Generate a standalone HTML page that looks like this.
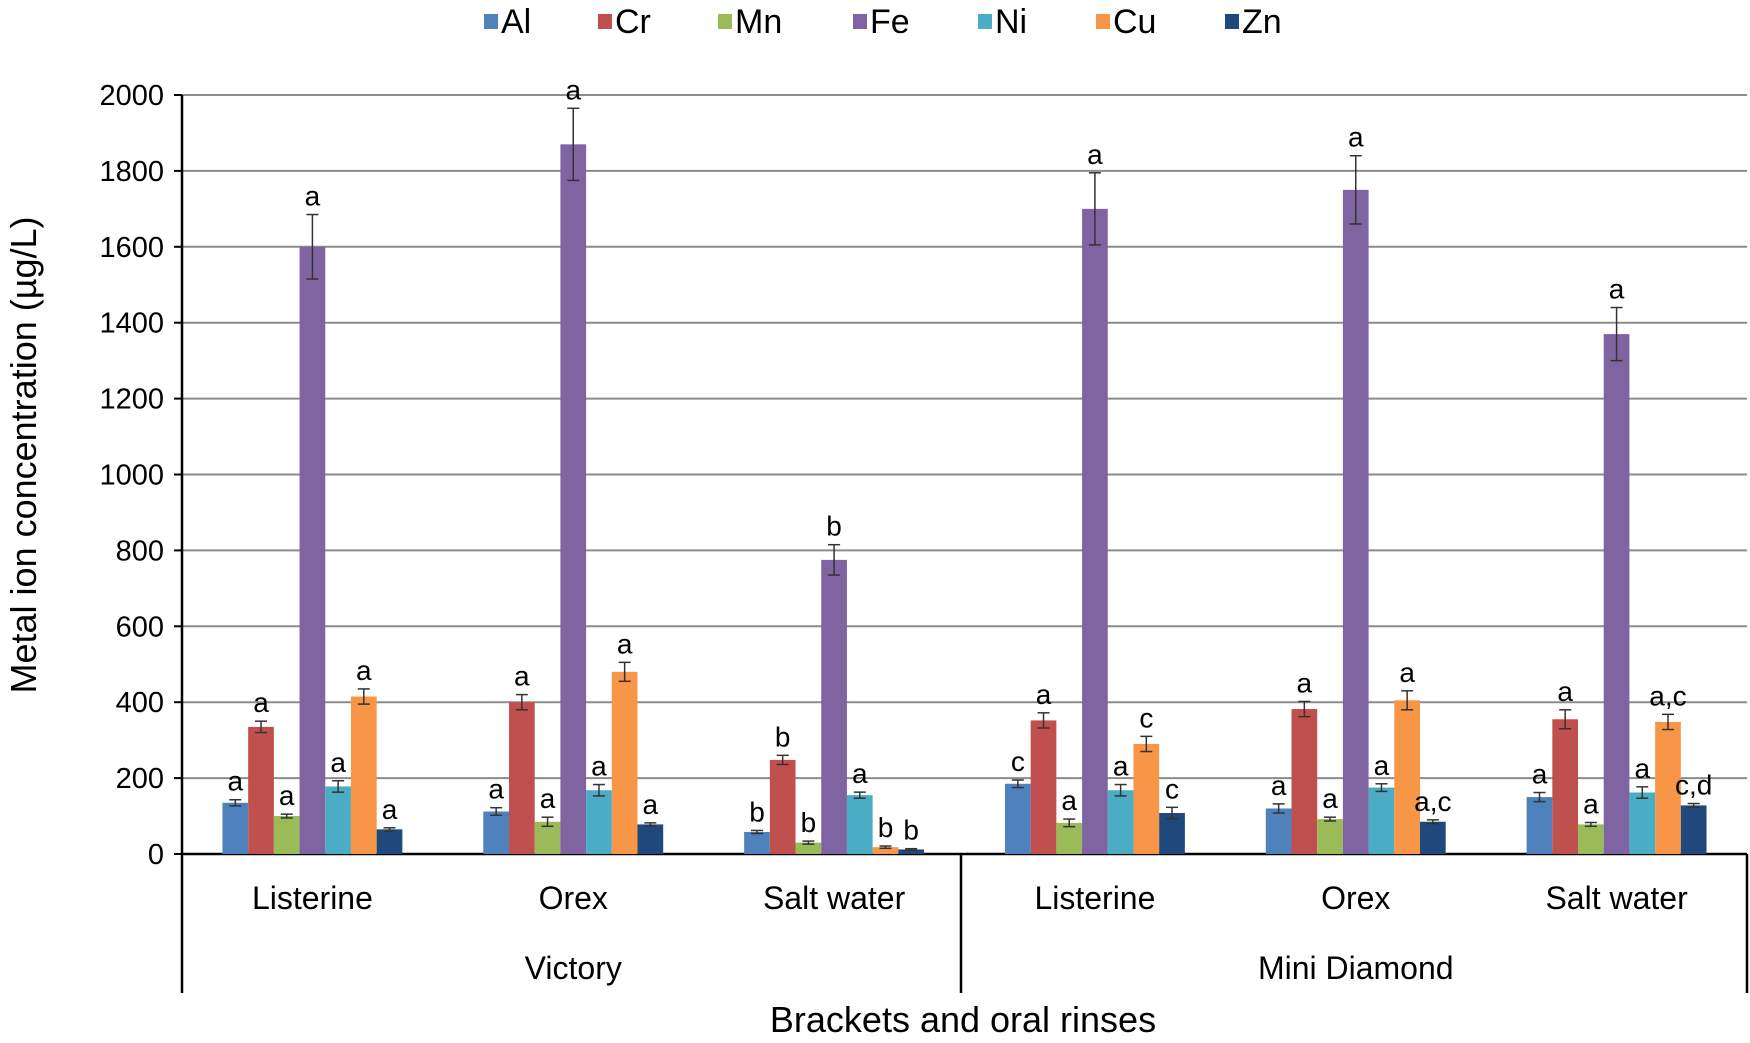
<!DOCTYPE html>
<html><head><meta charset="utf-8"><style>
html,body{margin:0;padding:0;background:#fff;}
svg{display:block;font-family:"Liberation Sans",Arial,sans-serif;}
</style></head><body>
<svg id="chart" width="1750" height="1043" viewBox="0 0 1750 1043"></svg>
<script>
const categories = ["Listerine","Orex","Salt water","Listerine","Orex","Salt water"];
const groups = ["Victory","Mini Diamond"];
const seriesNames = ["Al","Cr","Mn","Fe","Ni","Cu","Zn"];
const seriesColors = ["#4f81bd","#c0504d","#9bbb59","#8064a2","#4bacc6","#f79646","#1f497d"];
const alValues = [135,112,58,185,120,150];
const crValues = [335,400,248,352,382,355];
const mnValues = [100,85,30,82,92,78];
const feValues = [1600,1870,775,1700,1750,1370];
const niValues = [178,168,155,168,175,162];
const cuValues = [415,480,18,290,405,348];
const znValues = [65,78,12,108,85,128];
const alErr = [8,10,4,10,12,12];
const crErr = [15,20,12,20,20,25];
const mnErr = [5,12,4,10,5,5];
const feErr = [85,95,40,95,90,70];
const niErr = [15,15,8,15,10,15];
const cuErr = [20,25,3,20,25,20];
const znErr = [4,4,2,15,5,5];
const alLetters = ["a","a","b","c","a","a"];
const crLetters = ["a","a","b","a","a","a"];
const mnLetters = ["a","a","b","a","a","a"];
const feLetters = ["a","a","b","a","a","a"];
const niLetters = ["a","a","a","a","a","a"];
const cuLetters = ["a","a","b","c","a","a,c"];
const znLetters = ["a","a","b","c","a,c","c,d"];
const yTicks = [0,200,400,600,800,1000,1200,1400,1600,1800,2000];

const values=[alValues,crValues,mnValues,feValues,niValues,cuValues,znValues];
const errs=[alErr,crErr,mnErr,feErr,niErr,cuErr,znErr];
const letters=[alLetters,crLetters,mnLetters,feLetters,niLetters,cuLetters,znLetters];

const NS="http://www.w3.org/2000/svg";
const svg=document.getElementById('chart');
const X0=182,X1=1747,Y0=854,Y1=95,YMAX=2000;
const y=v=>Y0-(v/YMAX)*(Y0-Y1);
const catW=(X1-X0)/categories.length;
const barW=25.7;
const bx=(c,s)=>X0+c*catW+catW/2-(seriesNames.length*barW)/2+s*barW;
function mk(tag,attrs,parent){const e=document.createElementNS(NS,tag);for(const k in attrs)e.setAttribute(k,attrs[k]);(parent||svg).appendChild(e);return e;}

// gridlines & y ticks
yTicks.forEach(t=>{
  const g=mk('line',{x1:X0,x2:X1,y1:y(t),y2:y(t),stroke:t===0?'#000':'#8c8c8c','stroke-width':t===0?2.5:2});
  
  
  mk('line',{x1:X0-8,x2:X0,y1:y(t),y2:y(t),stroke:'#000','stroke-width':2});
  const tx=mk('text',{x:X0-18,y:y(t)+10,'text-anchor':'end','font-size':29,fill:'#000'});
  tx.textContent=t;
  
  
});
// y axis
const ya=mk('line',{x1:X0,x2:X0,y1:Y1,y2:993,stroke:'#000','stroke-width':2.5});


// group separators
[961,X1].forEach(xx=>{const l=mk('line',{x1:xx,x2:xx,y1:Y0,y2:993,stroke:'#000','stroke-width':2.5});

});

// bars
for(let c=0;c<categories.length;c++){
  for(let s=0;s<seriesNames.length;s++){
    const v=values[s][c],e=errs[s][c],x=bx(c,s);
    const r=mk('rect',{x:x,y:y(v),width:barW,height:Y0-y(v),fill:seriesColors[s]});
    
    
    const cx=x+barW/2;
    mk('line',{x1:cx,x2:cx,y1:y(v+e),y2:y(Math.max(0,v-e)),stroke:'#333','stroke-width':1.5});
    mk('line',{x1:cx-6,x2:cx+6,y1:y(v+e),y2:y(v+e),stroke:'#333','stroke-width':1.5});
    mk('line',{x1:cx-6,x2:cx+6,y1:y(Math.max(0,v-e)),y2:y(Math.max(0,v-e)),stroke:'#333','stroke-width':1.5});
    const lt=mk('text',{x:cx,y:y(v+e)-9,'text-anchor':'middle','font-size':28,fill:'#000'});
    lt.textContent=letters[s][c];
    
    
  }
  const cl=mk('text',{x:X0+c*catW+catW/2,y:909,'text-anchor':'middle','font-size':32,fill:'#000'});
  cl.textContent=categories[c];
  
  
}
groups.forEach((g,i)=>{
  const t=mk('text',{x:X0+catW*3*i+catW*1.5,y:979,'text-anchor':'middle','font-size':32,fill:'#000'});
  t.textContent=g;
  
  
});
const xt=mk('text',{x:963,y:1032,'text-anchor':'middle','font-size':36,fill:'#000'});
xt.textContent='Brackets and oral rinses';


const yt=mk('text',{x:0,y:0,'text-anchor':'middle','font-size':36,fill:'#000',transform:'translate(36,455) rotate(-90)'});
yt.textContent='Metal ion concentration  (µg/L)';



// legend
const legX=[484,598,718,853,978,1096,1225];
seriesNames.forEach((n,i)=>{
  const g=mk('g',{});
  
  
  mk('rect',{x:legX[i],y:14,width:14,height:15,fill:seriesColors[i]},g);
  const t=mk('text',{x:legX[i]+17,y:33,'font-size':34,fill:'#000'},g);
  t.textContent=n;
});
</script>
</body></html>
